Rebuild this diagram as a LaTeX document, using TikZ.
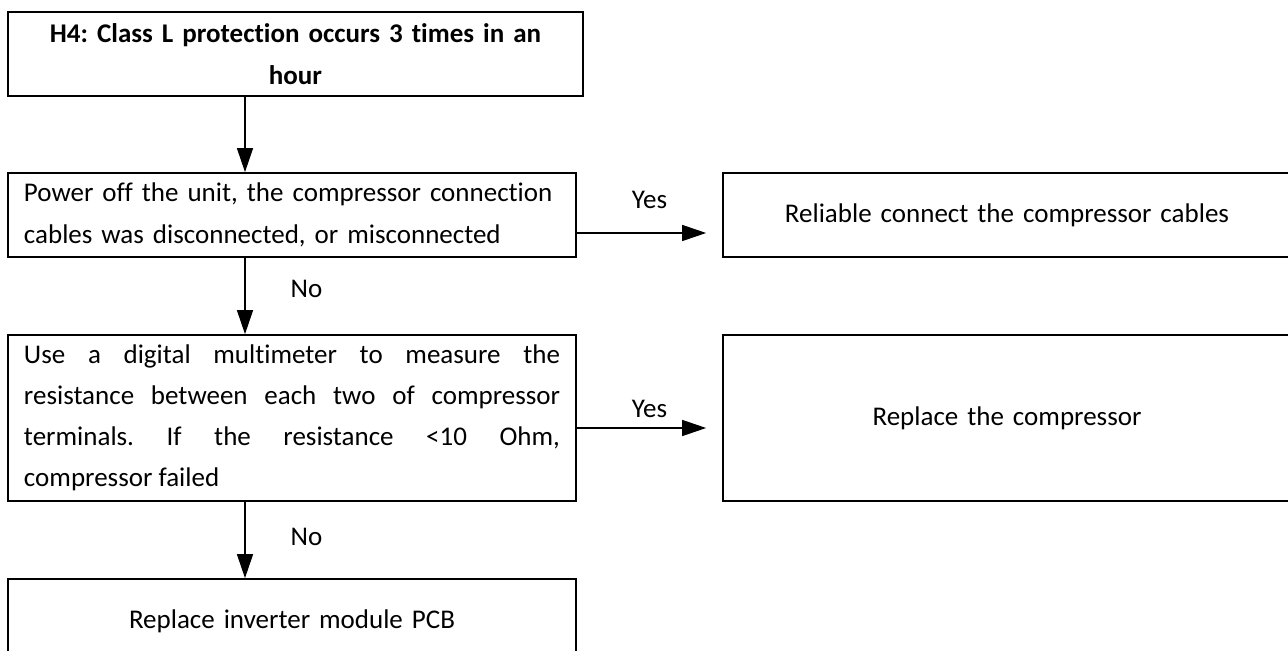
\documentclass[tikz,border=0pt]{standalone}
\usepackage{fontspec}
\setmainfont{Carlito}[Ligatures=NoCommon]
\usetikzlibrary{arrows.meta, positioning}
\newcommand\flowfont{\fontsize{13.5}{21}\selectfont\frenchspacing}

\begin{document}
\begin{tikzpicture}[x=0.5pt, y=-0.5pt,
  flowbox/.style={draw, line width=0.85pt, text width=268pt, inner xsep=8pt,
    inner ysep=4pt, font=\flowfont},
  flowarrow/.style={line width=0.65pt, -{Triangle[length=12pt, width=8pt]}},
  answer/.style={font=\flowfont, inner sep=0pt}]
\useasboundingbox (0,0) rectangle (1288,651);
\clip (0,0) rectangle (1288,651);

% left column
\node[flowbox, align=center, text width=271.5pt, minimum height=42pt,
      font=\flowfont\bfseries] (h4) at (295.5,54)
  {H4: Class L protection occurs 3 times in an\\hour};
\node[flowbox, align=left, minimum height=42pt] (check) at (292,215)
  {Power off the unit, the compressor connection\\cables was disconnected, or misconnected};
\node[flowbox, align=justify, minimum height=83pt,
      font=\fontsize{13.5}{20.5}\selectfont\frenchspacing] (measure) at (292,418)
  {Use a digital multimeter to measure the\linebreak
   resistance between each two of compressor\linebreak
   terminals. If the resistance <10 Ohm,\linebreak
   compressor failed};
\node[flowbox, align=center, minimum height=42pt] (newpcb) at (292,621)
  {Replace inverter module PCB};

% right column
\node[flowbox, align=center, minimum height=42pt] (reconnect) at (1007,215)
  {Reliable connect the compressor cables};
\node[flowbox, align=center, minimum height=83pt] (newcomp) at (1007,418)
  {Replace the compressor};

\coordinate (spine) at (245,0);
\draw[flowarrow] (h4.south -| spine) -- (check.north -| spine);
\draw[flowarrow] (check.south -| spine) --
  node[answer, midway, right, xshift=22.5pt, yshift=3.5pt] {No} (measure.north -| spine);
\draw[flowarrow] (measure.south -| spine) --
  node[answer, midway, right, xshift=22.5pt, yshift=1.5pt] {No} (newpcb.north -| spine);

\draw[flowarrow] ([yshift=-9pt]check.east) --
  node[answer, midway, xshift=4pt, yshift=16.5pt] {Yes} ([yshift=-9pt, xshift=-8pt]reconnect.west);
\draw[flowarrow] ([yshift=-5pt]measure.east) --
  node[answer, midway, xshift=4pt, yshift=9.5pt] {Yes} ([yshift=-5pt, xshift=-8pt]newcomp.west);
\end{tikzpicture}
\end{document}
